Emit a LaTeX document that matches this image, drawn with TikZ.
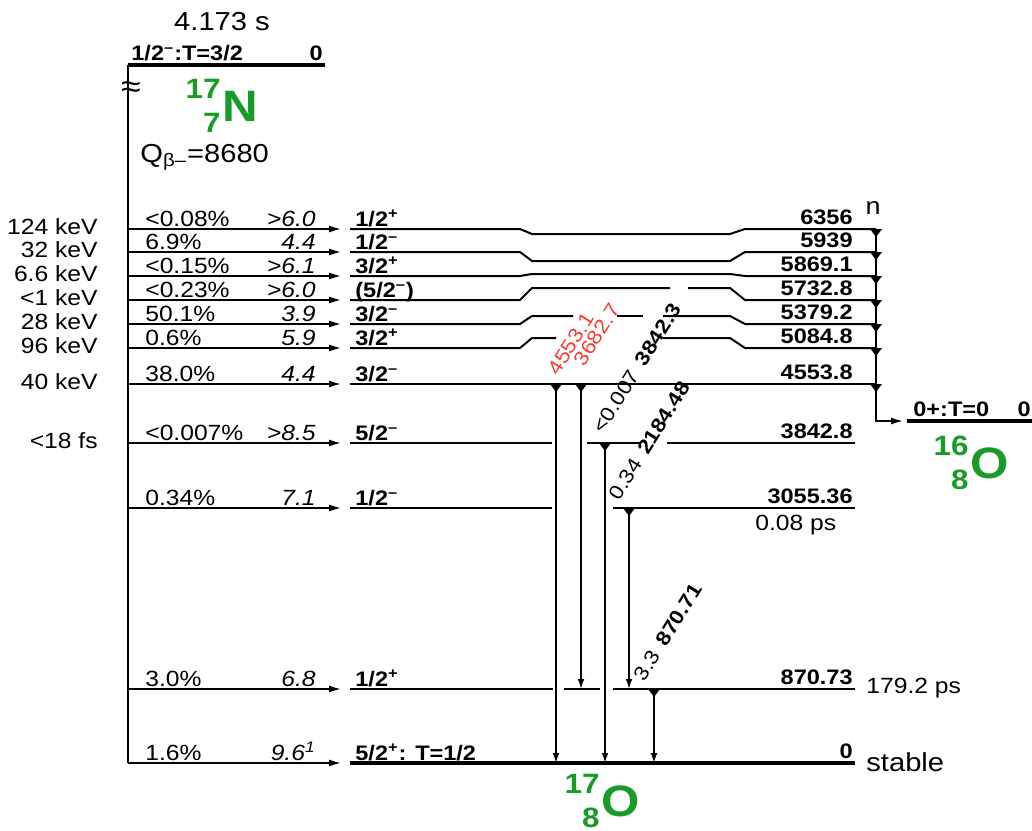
\documentclass[tikz,border=0pt]{standalone}
\usepackage{fontspec}
\setmainfont{Liberation Sans}[FakeStretch=1.12]
\usepackage{xcolor}
\usetikzlibrary{arrows.meta}
\definecolor{nucgreen}{RGB}{25,155,40}
\definecolor{gamred}{RGB}{250,60,50}
\newcommand{\spp}{\textsuperscript{+}}
\newcommand{\spm}{\textsuperscript{--}}

\tikzset{
  lvl/.style={line width=1pt},
  gslvl/.style={line width=1.6pt},
  spine/.style={line width=1pt},
  betaarr/.style={line width=0.8pt, -{Latex[length=6pt,width=3.5pt]}},
  gamarr/.style={line width=0.8pt, -{Latex[length=5pt,width=3.4pt]}},
  txt/.style={font=\fontsize{11}{13}\selectfont, inner sep=0pt},
  ittxt/.style={font=\fontsize{11}{13}\selectfont\itshape, inner sep=0pt},
  boldtxt/.style={font=\fontsize{10.5}{12}\selectfont\bfseries, inner sep=0pt},
  bigtxt/.style={font=\fontsize{13}{15}\selectfont, inner sep=0pt},
  gamlbl/.style={font=\fontsize{10}{12}\selectfont, rotate=58, anchor=south west, inner sep=0pt},
  nucA/.style={font=\fontsize{14}{16}\selectfont\bfseries, text=nucgreen, inner sep=0pt},
  nucE/.style={font=\fontsize{22}{25}\selectfont\bfseries, text=nucgreen, inner sep=0pt}
}

\begin{document}
\begin{tikzpicture}[x=0.5pt,y=-0.5pt]
\useasboundingbox (0,0) rectangle (1032,830);

% Parent level 17N
\node[bigtxt, anchor=base] (thalf) at (222,31) {4.173 s};
\draw[gslvl] (128,65) -- (325,65);
\node[boldtxt, anchor=base west] (pspin) at (131,60) {1/2\spm:T=3/2};
\node[boldtxt, anchor=base east] (pen) at (323,60) {0};
\draw[spine] (128,65) -- (128,763);
\node[txt] (brk) at (131,90) {\fontsize{16}{18}\selectfont ≈};
\node[bigtxt, anchor=base west] (qval) at (140,162) {Q\textsubscript{β–}=8680};

% Nuclide names
\foreach \nm/\x/\y/\A/\Z/\El in {n17/221/121/17/7/N, o16/969/478/16/8/O, o17/600/816/17/8/O} {
    \node[nucA, anchor=base east] (\nm A) at (\x,\y-23) {\A};
    \node[nucA, anchor=base east] (\nm Z) at (\x,\y+11) {\Z};
    \node[nucE, anchor=base west] (\nm E) at (\x+1,\y) {\El};
}

% Beta feeding: intensity, log ft, spin
\foreach \y/\pc/\lft/\spin in {
229/{<0.08\%}/{>6.0}/{1/2\spp},
252/{6.9\%}/{4.4}/{1/2\spm},
276/{<0.15\%}/{>6.1}/{3/2\spp},
300/{<0.23\%}/{>6.0}/{(5/2\spm)},
324/{50.1\%}/{3.9}/{3/2\spm},
348/{0.6\%}/{5.9}/{3/2\spp},
384/{38.0\%}/{4.4}/{3/2\spm},
443/{<0.007\%}/{>8.5}/{5/2\spm},
508/{0.34\%}/{7.1}/{1/2\spm},
689/{3.0\%}/{6.8}/{1/2\spp},
763/{1.6\%}/{9.6\textsuperscript{1}}/{5/2\spp: T=1/2}
} {
    \coordinate (b\y s) at (128,\y);
    \coordinate (b\y e) at (341,\y);
    \draw[betaarr] (b\y s) -- (b\y e);
    \node[txt, anchor=base west] (pc\y) at (145,\y-3) {\pc};
    \node[ittxt, anchor=base east] (ft\y) at (316,\y-3) {\lft};
    \node[boldtxt, anchor=base west] (sp\y) at (355,\y-3) {\spin};
}

% Level widths and half-lives
\foreach \y/\lw in {229/124 keV, 252/32 keV, 276/6.6 keV, 300/{<1 keV},
                    324/28 keV, 348/96 keV, 384/40 keV, 443/{<18 fs}} {
    \node[txt, anchor=east] (lw\y) at (98,\y-2) {\lw};
}

% Levels of 17O
\draw[lvl] (350,229) -- (520,229) -- (532,234) -- (730,234) -- (745,229) -- (876,229);
\draw[lvl] (350,252) -- (520,252) -- (532,261) -- (730,261) -- (745,252) -- (876,252);
\draw[lvl] (350,276) -- (520,276) -- (532,274) -- (730,274) -- (745,276) -- (876,276);
\draw[lvl] (350,300) -- (520,300) -- (532,288) -- (670,288);
\draw[lvl] (688,288) -- (730,288) -- (745,300) -- (876,300);
\draw[lvl] (350,324) -- (520,324) -- (532,316) -- (573,316);
\draw[lvl] (617,316) -- (643,316);
\draw[lvl] (663,316) -- (730,316) -- (745,324) -- (876,324);
\draw[lvl] (350,348) -- (520,348) -- (532,338) -- (556,338);
\draw[lvl] (663,338) -- (730,338) -- (745,348) -- (876,348);
\draw[lvl] (350,384) -- (876,384);
\draw[lvl] (350,443) -- (552,443);
\draw[lvl] (587,443) -- (640,443);
\draw[lvl] (667,443) -- (855,443);
\draw[lvl] (350,508) -- (552,508);
\draw[lvl] (613,508) -- (855,508);
\draw[lvl] (350,689) -- (553,689);
\draw[lvl] (564,689) -- (600,689);
\draw[lvl] (613,689) -- (855,689);
\draw[gslvl] (350,763) -- (855,763);

% Level energies
\foreach \y/\en in {229/6356, 252/5939, 276/5869.1, 300/5732.8, 324/5379.2, 348/5084.8,
                    384/4553.8, 443/3842.8, 508/3055.36, 689/870.73, 763/0} {
    \node[boldtxt, anchor=base east] (en\y) at (853,\y-5) {\en};
}
\node[txt, anchor=base west] (tau508) at (755,530) {0.08 ps};
\node[txt, anchor=west] (tau689) at (866,688) {179.2 ps};
\node[bigtxt, anchor=west] (stab) at (866,762) {stable};

% Gamma rays
\foreach \x/\ya/\yb in {556/384/763, 581/384/689, 605/443/763, 629/508/689, 654/689/763} {
    \coordinate (g\x a) at (\x,\ya);
    \coordinate (g\x b) at (\x,\yb);
    \fill (\x-6,\ya) -- (\x+6,\ya) -- (\x,\ya+8) -- cycle;
    \draw[gamarr] (g\x a) -- (g\x b);
}
\node[gamlbl, text=gamred] (gl556) at (559,377) {4553.1};
\node[gamlbl, text=gamred] (gl581) at (585,368) {3682.7};
\node[gamlbl] (gl605) at (604,435) {<0.007\hspace{0.5em}\textbf{3842.3}};
\node[gamlbl] (gl629) at (620,502) {0.34\hspace{0.5em}\textbf{2184.48}};
\node[gamlbl] (gl654) at (645,683) {3.3\hspace{0.5em}\textbf{870.71}};

% Neutron emission to 16O
\node[txt, anchor=base] (nlbl) at (873,214) {\fontsize{12}{14}\selectfont n};
\foreach \y in {229,252,276,300,324,348,384} {
    \fill (870,\y) -- (882,\y) -- (876,\y+8) -- cycle;
}
\coordinate (ntop) at (876,229);
\coordinate (nbot) at (876,421);
\coordinate (nend) at (903,421);
\draw[betaarr] (ntop) -- (nbot) -- (nend);
\draw[gslvl] (907,421) -- (1032,421);
\node[boldtxt, anchor=base west] (dspin) at (913,416) {0+:T=0};
\node[boldtxt, anchor=base east] (den) at (1031,416) {0};

\end{tikzpicture}
\end{document}
